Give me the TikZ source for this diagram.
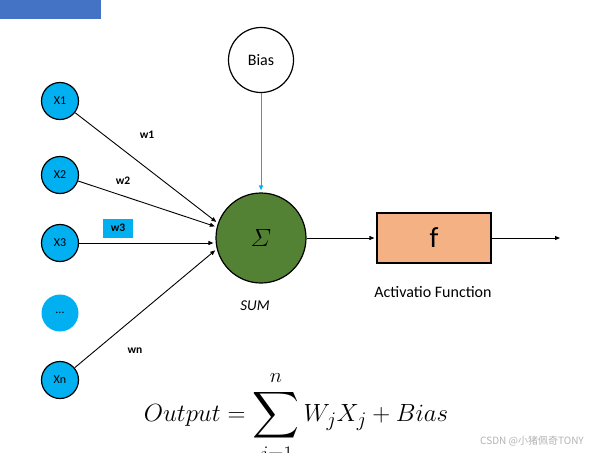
\documentclass[tikz,border=0pt]{standalone}
\usepackage{amssymb,amsmath}
\usepackage{fontspec}
\setmainfont{Carlito}
\newfontfamily\cjk{Noto Sans CJK SC}
\usetikzlibrary{arrows.meta}
\definecolor{inblue}{HTML}{00B0F0}
\definecolor{sumgreen}{HTML}{548235}
\definecolor{funcorange}{HTML}{F4B183}
\definecolor{headblue}{HTML}{4472C4}

\begin{document}
\begin{tikzpicture}[x=1pt,y=-1pt]
  \tikzset{InputStyle/.style = {
    shape         = circle,
    draw          = black,
    fill          = inblue,
    line width    = 1.2pt,
    text          = black,
    inner sep     = 0pt,
    minimum size  = 37pt,
    font          = \fontsize{12}{14}\selectfont
    }
  }
  \tikzset{SumStyle/.style = {
    shape         = circle,
    draw          = black,
    fill          = sumgreen,
    line width    = 1.2pt,
    text          = black,
    inner sep     = 0pt,
    minimum size  = 90pt,
    font          = \fontsize{33}{36}\selectfont
    }
  }
  \tikzset{BiasStyle/.style = {
    shape         = circle,
    draw          = black,
    fill          = white,
    line width    = 1.2pt,
    inner sep     = 0pt,
    minimum size  = 65pt,
    font          = \fontsize{16}{18}\selectfont
    }
  }
  \tikzset{FuncStyle/.style = {
    shape         = rectangle,
    draw          = black,
    fill          = funcorange,
    line width    = 1.2pt,
    inner sep     = 0pt,
    minimum width = 114pt,
    minimum height= 50pt,
    font          = \fontsize{29}{31}\selectfont
    }
  }
  \tikzset{EdgeStyle/.style = {
    draw          = black,
    line width    = 0.9pt,
    shorten >     = 2pt,
    -{Triangle[length=5pt,width=4pt]}
    }
  }
  \tikzset{WeightStyle/.style = {
    inner sep     = 1pt,
    font          = \fontsize{11.5}{13}\selectfont\bfseries
    }
  }

  \useasboundingbox (0,0) rectangle (591,452);
  \fill[headblue] (0,0) rectangle (101,19);

  \node[InputStyle](X1) at (60,101) {X1};
  \node[InputStyle](X2) at (60,175) {X2};
  \node[InputStyle](X3) at (60,243) {X3};
  \node[InputStyle, draw=none](Xd) at (60,313) {...};
  \node[InputStyle](Xn) at (60,380) {Xn};
  \node[SumStyle](S) at (261,238) {$\varSigma$};
  \node[BiasStyle](B) at (261,60) {Bias};
  \node[FuncStyle](F) at (434,238) {f};
  \coordinate (O) at (562,238);

  \draw[EdgeStyle](X1) -- (S.161);
  \draw[EdgeStyle](X2) -- (S.166);
  \draw[EdgeStyle](X3) -- (X3 -| S.west);
  \draw[EdgeStyle](Xn) -- (S.194);
  \draw[EdgeStyle, draw=inblue, -{Triangle[length=5pt,width=4pt,fill=inblue]}](B) -- (S);
  \draw[EdgeStyle](S) -- (F);
  \draw[EdgeStyle](F) -- (O);

  \node[WeightStyle](w1) at (147,135) {w1};
  \node[WeightStyle](w2) at (123,181) {w2};
  \node[WeightStyle, fill=inblue, minimum width=30pt, minimum height=19pt](w3) at (118,228) {w3};
  \node[WeightStyle](wn) at (135,351) {wn};

  \node[font=\fontsize{15}{17}\selectfont\itshape](sumlbl) at (255,306) {SUM};
  \node[font=\fontsize{16}{18}\selectfont](funclbl) at (433,292) {Activatio Function};
  \node[anchor=base, font=\fontsize{32.5}{35}\selectfont](eq) at (296,421)
    {$\displaystyle Output = \sum_{j=1}^{n} W_j X_j + Bias$};
  \node[text=black!30, font=\fontsize{10}{12}\selectfont\cjk](mark) at (532,441) {CSDN @小猪佩奇TONY};
\end{tikzpicture}
\end{document}
